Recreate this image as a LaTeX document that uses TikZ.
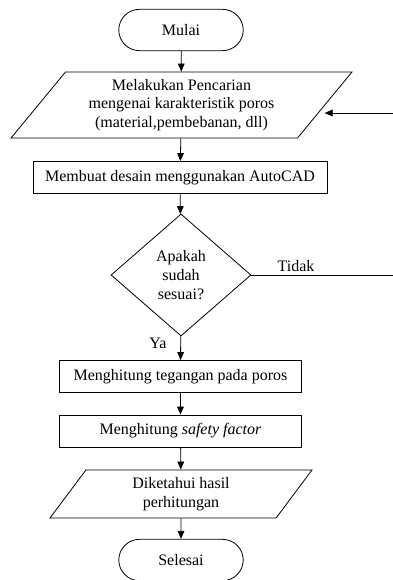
\documentclass[tikz,border=0pt]{standalone}
\usepackage{fontspec}
\setmainfont{Liberation Serif}
\usetikzlibrary{shapes.geometric,shapes.misc,arrows.meta,calc}

\tikzset{
  terminal/.style={draw, rounded rectangle, minimum width=100pt, minimum height=31pt},
  datain/.style={draw, trapezium, trapezium left angle=45, trapezium right angle=135,
    trapezium stretches body, align=center, inner sep=1pt},
  process/.style={draw, rectangle, minimum width=182pt, minimum height=24pt},
  decision/.style={draw, diamond, aspect=1.15, minimum width=105pt, minimum height=91.5pt,
    inner sep=0pt, align=center},
  flow/.style={-{Triangle[length=6pt,width=5pt]}}
}

\begin{document}
\begin{tikzpicture}[x=0.75pt, y=-0.75pt, line width=0.6pt,
    font=\fontsize{12}{14}\selectfont]
  \useasboundingbox (0,0) rectangle (392,580);

  % langkah-langkah
  \node [terminal](mulai) at (181,30) {Mulai};
  \node [datain, minimum width=255.75pt, minimum height=49.5pt](cari) at (181.5,105)
    {Melakukan Pencarian\\mengenai karakteristik poros\\(material,pembebanan, dll)};
  \node [process, minimum width=220.5pt](desain) at (180,177.5) {Membuat desain menggunakan AutoCAD};
  \node [decision](cek) at (181,275) {Apakah\\sudah\\sesuai?};
  \node [process](tegangan) at (180.5,376.5) {Menghitung tegangan pada poros};
  \node [process](sf) at (180.5,431) {Menghitung \textit{safety factor}};
  \node [datain, minimum width=196.5pt, minimum height=36pt](hasil) at (181,494)
    {Diketahui hasil\\perhitungan};
  \node [terminal](selesai) at (181,560) {Selesai};

  % label cabang
  \node (tidak) at (296,266) {Tidak};
  \node (ya) at (158,343) {Ya};

  % garis balik (tepat di luar tepi kanan)
  \coordinate (balik) at (394,0);

  % alur
  \draw [flow] (mulai) -- (cari);
  \draw [flow] (cari) -- (desain);
  \draw [flow] (desain) -- (cek);
  \draw [flow] (cek) -- (tegangan);
  \draw [flow] (tegangan) -- (sf);
  \draw [flow] (sf) -- (hasil);
  \draw [flow] (hasil) -- (selesai);
  \draw [flow] (cek.east) -- (cek.east -| balik)
    |- ($(cari.top right corner)!0.62!(cari.bottom right corner) + (6,0)$);
\end{tikzpicture}
\end{document}
